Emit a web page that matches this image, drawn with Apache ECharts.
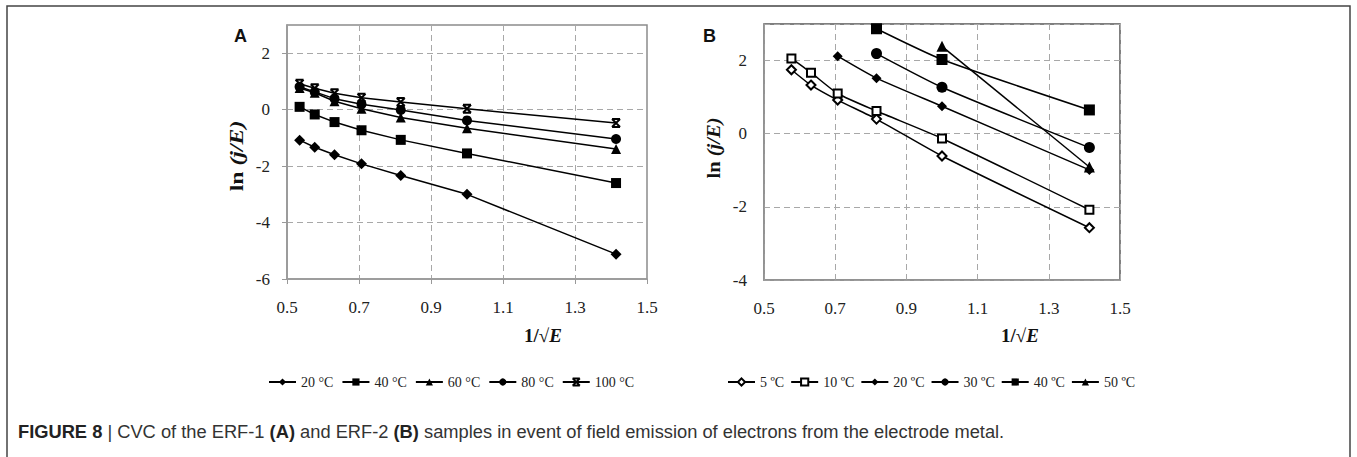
<!DOCTYPE html>
<html>
<head>
<meta charset="utf-8">
<script src="https://cdn.jsdelivr.net/npm/echarts@6/dist/echarts.min.js"></script>
<style>
html,body{margin:0;padding:0;background:#fff;}
#chart{width:1357px;height:457px;}
</style>
</head>
<body>
<div id="chart"></div>
<script>
// ---------- Panel A (ERF-1) ----------
const xA = [0.535, 0.577, 0.632, 0.707, 0.816, 1.0, 1.414];
const namesA = ['20 °C', '40 °C', '60 °C', '80 °C', '100 °C'];
const yA20  = [-1.08, -1.33, -1.60, -1.92, -2.33, -3.00, -5.12];
const yA40  = [0.10, -0.17, -0.44, -0.73, -1.07, -1.55, -2.60];
const yA60  = [0.77, 0.60, 0.30, 0.03, -0.28, -0.66, -1.39];
const yA80  = [0.81, 0.63, 0.39, 0.19, -0.01, -0.38, -1.04];
const yA100 = [0.92, 0.76, 0.58, 0.42, 0.27, 0.03, -0.47];

// ---------- Panel B (ERF-2) ----------
const namesB = ['5 ºC', '10 ºC', '20 ºC', '30 ºC', '40 ºC', '50 ºC'];
const xB5  = [0.577, 0.632, 0.707, 0.816, 1.0, 1.414];
const yB5  = [1.75, 1.33, 0.92, 0.40, -0.61, -2.57];
const xB10 = [0.577, 0.632, 0.707, 0.816, 1.0, 1.414];
const yB10 = [2.06, 1.67, 1.10, 0.62, -0.13, -2.08];
const xB20 = [0.707, 0.816, 1.0, 1.414];
const yB20 = [2.12, 1.52, 0.75, -0.99];
const xB30 = [0.816, 1.0, 1.414];
const yB30 = [2.19, 1.27, -0.38];
const xB40 = [0.816, 1.0, 1.414];
const yB40 = [2.87, 2.03, 0.65];
const xB50 = [1.0, 1.414];
const yB50 = [2.39, -0.91];

// axis ranges / tick steps
const xRange = [0.5, 1.5], xStep = 0.2;
const yRangeA = [-6, 3], yRangeB = [-4, 3], yStep = 2;

const pair = (xs, ys) => xs.map((x, i) => [x, ys[i]]);
const serif = 'Liberation Serif, Times New Roman, serif';
const sans = 'Liberation Sans, Arial, sans-serif';
const xMark = 'path://M0,0L10,0M0,10L10,10M0,0L10,10M10,0L0,10';

function lineSeries(name, data, axis, symbol, size, extra) {
  return Object.assign({
    name, type: 'line', xAxisIndex: axis, yAxisIndex: axis,
    data, symbol, symbolSize: size,
    lineStyle: {color: '#000', width: 1.5},
    itemStyle: {color: '#000', borderColor: '#000', borderWidth: 0},
    emphasis: {disabled: true},
    clip: false, z: 3
  }, extra || {});
}

const series = [
  lineSeries(namesA[0], pair(xA, yA20), 0, 'diamond', 11),
  lineSeries(namesA[1], pair(xA, yA40), 0, 'rect', 10),
  lineSeries(namesA[2], pair(xA, yA60), 0, 'triangle', 10),
  lineSeries(namesA[3], pair(xA, yA80), 0, 'circle', 10),
  lineSeries(namesA[4], pair(xA, yA100), 0, xMark, 8,
    {itemStyle: {color: '#000', borderColor: '#000', borderWidth: 2}}),
  lineSeries(namesB[0], pair(xB5, yB5), 1, 'emptyDiamond', 9,
    {smooth: 0.2, itemStyle: {color: '#000', borderColor: '#000', borderWidth: 1.2}}),
  lineSeries(namesB[1], pair(xB10, yB10), 1, 'emptyRect', 8,
    {smooth: 0.2, itemStyle: {color: '#000', borderColor: '#000', borderWidth: 1.2}}),
  lineSeries(namesB[2], pair(xB20, yB20), 1, 'diamond', 10, {smooth: 0.2}),
  lineSeries(namesB[3], pair(xB30, yB30), 1, 'circle', 11, {smooth: 0.2}),
  lineSeries(namesB[4], pair(xB40, yB40), 1, 'rect', 11, {smooth: 0.2}),
  lineSeries(namesB[5], pair(xB50, yB50), 1, 'triangle', 11, {smooth: 0.2})
];

function xAxisCfg(grid, tickShow, color) {
  return {
    type: 'value', gridIndex: grid, min: xRange[0], max: xRange[1], interval: xStep,
    axisLine: {show: true, onZero: false, lineStyle: {color: color, width: 1.5}},
    axisTick: {show: tickShow, length: 5, lineStyle: {color: color, width: 1}},
    axisLabel: {margin: 20, fontFamily: serif, fontSize: 17, color: '#222',
                formatter: v => v.toFixed(1)},
    splitLine: {show: true, lineStyle: {color: '#a8a8a8', type: [6, 4], width: 1}}
  };
}
function yAxisCfg(grid, range, tickShow, color) {
  return {
    type: 'value', gridIndex: grid, min: range[0], max: range[1], interval: yStep,
    axisLine: {show: true, onZero: false, lineStyle: {color: color, width: 1.5}},
    axisTick: {show: tickShow, length: 5, lineStyle: {color: color, width: 1}},
    axisLabel: {margin: 17, fontFamily: serif, fontSize: 17, color: '#222',
                showMaxLabel: false, formatter: v => String(v)},
    splitLine: {show: true, lineStyle: {color: '#a8a8a8', type: [6, 4], width: 1}}
  };
}

const legendText = {fontFamily: serif, fontSize: 14, color: '#222'};

const option = {
  animation: false,
  backgroundColor: '#fff',
  grid: [
    {left: 287, top: 25, width: 360, height: 254, show: true, borderColor: '#8c8c8c', borderWidth: 1.5, backgroundColor: 'transparent'},
    {left: 764, top: 24, width: 356, height: 256, show: true, borderColor: '#555', borderWidth: 1.5, backgroundColor: 'transparent'}
  ],
  xAxis: [xAxisCfg(0, true, '#999'), xAxisCfg(1, false, '#999')],
  yAxis: [yAxisCfg(0, yRangeA, true, '#999'), yAxisCfg(1, yRangeB, false, '#999')],
  legend: [
    {data: namesA, left: 268, top: 375, padding: 0, itemWidth: 27, itemHeight: 9, itemGap: 8,
     textStyle: legendText, selectedMode: false},
    {data: namesB, left: 727, top: 375, padding: 0, itemWidth: 27, itemHeight: 9, itemGap: 6,
     textStyle: legendText, selectedMode: false}
  ],
  graphic: [
    {type: 'rect', shape: {x: 7, y: 6, width: 1343, height: 500}, silent: true,
     style: {fill: 'none', stroke: '#444', lineWidth: 1.5}, z: -10},
    {type: 'text', x: 234, y: 27, style: {text: 'A', font: 'bold 18px Liberation Sans, Arial, sans-serif', fill: '#111'}},
    {type: 'text', x: 703, y: 27, style: {text: 'B', font: 'bold 18px Liberation Sans, Arial, sans-serif', fill: '#111'}},
    {type: 'text', x: 237, y: 156, rotation: Math.PI / 2, scaleX: 1.25,
     style: {text: '{b|ln }{bi|(j/E)}', align: 'center', verticalAlign: 'middle',
       rich: {b: {fontFamily: serif, fontWeight: 'bold', fontSize: 19, fill: '#111'},
              bi: {fontFamily: serif, fontWeight: 'bold', fontStyle: 'italic', fontSize: 19, fill: '#111'}}}},
    {type: 'text', x: 713, y: 148, rotation: Math.PI / 2, scaleX: 1.08,
     style: {text: '{b|ln }{bi|(j/E)}', align: 'center', verticalAlign: 'middle',
       rich: {b: {fontFamily: serif, fontWeight: 'bold', fontSize: 19, fill: '#111'},
              bi: {fontFamily: serif, fontWeight: 'bold', fontStyle: 'italic', fontSize: 19, fill: '#111'}}}},
    {type: 'text', x: 543, y: 335,
     style: {text: '{b|1/√}{bi|E}', align: 'center', verticalAlign: 'middle',
       rich: {b: {fontFamily: serif, fontWeight: 'bold', fontSize: 19, fill: '#111'},
              bi: {fontFamily: serif, fontWeight: 'bold', fontStyle: 'italic', fontSize: 19, fill: '#111'}}}},
    {type: 'text', x: 1020, y: 335,
     style: {text: '{b|1/√}{bi|E}', align: 'center', verticalAlign: 'middle',
       rich: {b: {fontFamily: serif, fontWeight: 'bold', fontSize: 19, fill: '#111'},
              bi: {fontFamily: serif, fontWeight: 'bold', fontStyle: 'italic', fontSize: 19, fill: '#111'}}}},
    {type: 'text', x: 18, y: 431,
     style: {text: '{b|FIGURE 8} | CVC of the ERF-1 {b|(A)} and ERF-2 {b|(B)} samples in event of field emission of electrons from the electrode metal.',
       verticalAlign: 'middle', fontFamily: sans, fontSize: 18.3, fill: '#333',
       rich: {b: {fontFamily: sans, fontWeight: 'bold', fontSize: 18.3, fill: '#222'}}}}
  ],
  series: series
};

const chart = echarts.init(document.getElementById('chart'), null, {renderer: 'svg'});
chart.setOption(option);
</script>
</body>
</html>
